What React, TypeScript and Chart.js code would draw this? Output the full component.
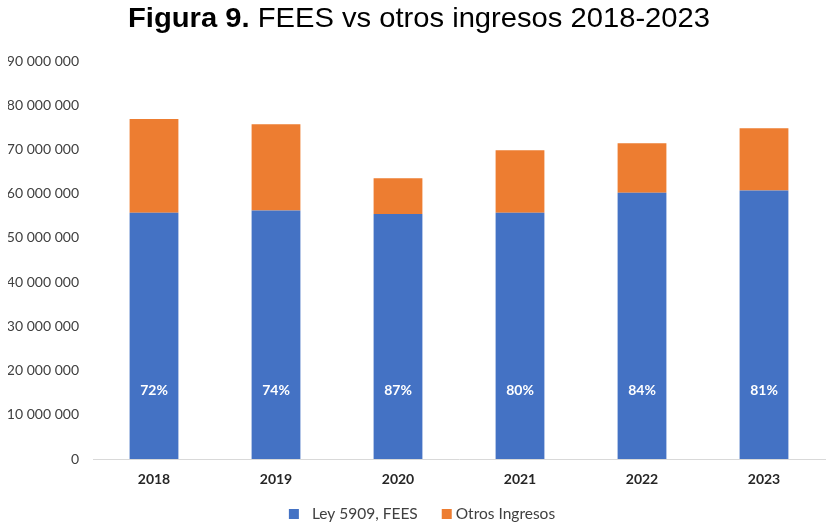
import React, { useEffect, useRef } from "react";
import { Chart, registerables } from "chart.js";

Chart.register(...registerables);

const categories = ["2018", "2019", "2020", "2021", "2022", "2023"];
const leyFees = [55700000, 56200000, 55400000, 55700000, 60200000, 60700000];
const otrosIngresos = [21200000, 19500000, 8100000, 14100000, 11200000, 14100000];
const pctLabels = ["72%", "74%", "87%", "80%", "84%", "81%"];
const seriesNames = ["Ley 5909, FEES", "Otros Ingresos"];
const seriesColors = ["#4472C4", "#ED7D31"];
const yTicks = [0, 10000000, 20000000, 30000000, 40000000, 50000000, 60000000, 70000000, 80000000, 90000000];
const pctLabelValue = 15600000;
const titleBold = "Figura 9.";
const titleRest = " FEES vs otros ingresos 2018-2023";

const FONT = "Lato, 'Open Sans', sans-serif";
const TFONT = "'Liberation Sans', Arial, sans-serif";

function fmt(v: number): string {
  return String(Math.round(v)).replace(/\B(?=(\d{3})+(?!\d))/g, " ");
}

const decorPlugin = {
  id: "decor",
  afterDraw(chart: any) {
    const ctx = chart.ctx;
    // Title
    ctx.save();
    ctx.textBaseline = "alphabetic";
    ctx.fillStyle = "#000000";
    ctx.textAlign = "left";
    ctx.font = "bold 28px " + TFONT;
    const wb = ctx.measureText(titleBold).width;
    ctx.font = "28px " + TFONT;
    const wr = ctx.measureText(titleRest).width;
    const targetW = 582;
    const sx = targetW / (wb + wr);
    const cx = 419;
    ctx.translate(cx - targetW / 2, 27);
    ctx.scale(sx, 1);
    ctx.font = "bold 28px " + TFONT;
    ctx.fillText(titleBold, 0, 0);
    ctx.font = "28px " + TFONT;
    ctx.fillText(titleRest, wb, 0);
    ctx.restore();

    // Percent labels
    const meta = chart.getDatasetMeta(0);
    const ys = chart.scales.y;
    ctx.save();
    ctx.font = "bold 14px " + FONT;
    ctx.fillStyle = "#FFFFFF";
    ctx.textAlign = "center";
    ctx.textBaseline = "middle";
    meta.data.forEach((bar: any, i: number) => {
      ctx.fillText(pctLabels[i], bar.x, ys.getPixelForValue(pctLabelValue));
    });
    ctx.restore();

    // Legend
    ctx.save();
    ctx.font = "15.5px " + FONT;
    ctx.textBaseline = "middle";
    ctx.textAlign = "left";
    const box = 10;
    const gapBoxText = [13, 4];
    const gapItems = 24;
    const widths = seriesNames.map((n) => ctx.measureText(n).width);
    const total = widths.reduce((a, b, i) => a + box + gapBoxText[i] + b, 0) + gapItems;
    let x = 422 - total / 2;
    const ly = 514;
    seriesNames.forEach((n, i) => {
      ctx.fillStyle = seriesColors[i];
      ctx.fillRect(x, ly - box / 2, box, box);
      ctx.fillStyle = "#404040";
      ctx.fillText(n, x + box + gapBoxText[i], ly);
      x += box + gapBoxText[i] + widths[i] + gapItems;
    });
    ctx.restore();
  },
};

export default function App() {
  const ref = useRef<HTMLCanvasElement | null>(null);
  useEffect(() => {
    if (!ref.current) return;
    const chart = new Chart(ref.current, {
      type: "bar",
      data: {
        labels: categories,
        datasets: [
          { label: seriesNames[0], data: leyFees, backgroundColor: seriesColors[0], barPercentage: 0.4, categoryPercentage: 1 },
          { label: seriesNames[1], data: otrosIngresos, backgroundColor: seriesColors[1], barPercentage: 0.4, categoryPercentage: 1 },
        ],
      },
      options: {
        animation: false,
        responsive: false,
        maintainAspectRatio: false,
        layout: { padding: { top: 61, left: 8, right: 2, bottom: 28 } },
        plugins: { legend: { display: false }, title: { display: false }, tooltip: { enabled: false } },
        scales: {
          x: {
            stacked: true,
            grid: { display: false, drawTicks: false },
            border: { display: true, color: "#D9D9D9", width: 1 },
            ticks: { color: "#262626", font: { family: FONT, size: 14, weight: "bold" }, padding: 12 },
            afterFit: (s: any) => { s.height = 40; },
          },
          y: {
            stacked: true,
            min: 0,
            max: 90000000,
            grid: { display: false, drawTicks: false },
            border: { display: false },
            afterBuildTicks: (s: any) => { s.ticks = yTicks.map((v) => ({ value: v })); },
            ticks: {
              color: "#404040",
              font: { family: FONT, size: 14 },
              padding: 14,
              callback: (v: any) => fmt(Number(v)),
            },
            afterFit: (s: any) => { s.width = 85; },
          },
        },
      },
      plugins: [decorPlugin],
    });
    return () => chart.destroy();
  }, []);
  return (
    <div style={{ position: "absolute", left: 0, top: 0, width: 827, height: 527, background: "#fff" }}>
      <canvas ref={ref} width={827} height={527} style={{ display: "block", width: 827, height: 527 }} />
    </div>
  );
}
